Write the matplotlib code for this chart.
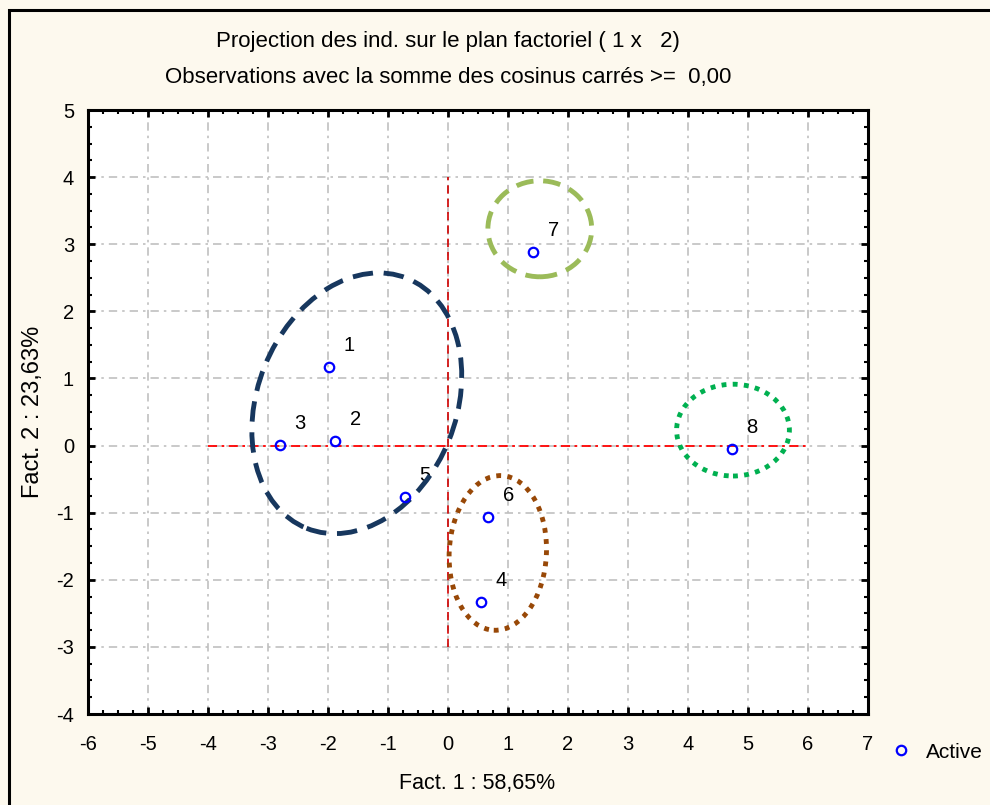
import matplotlib
matplotlib.use("Agg")
import matplotlib.pyplot as plt
from matplotlib.patches import Ellipse, Rectangle
from matplotlib.lines import Line2D
from matplotlib.ticker import MultipleLocator
from matplotlib.transforms import Affine2D

# ---- data ----
labels = ["1", "2", "3", "4", "5", "6", "7", "8"]
fact1 = [-1.98, -1.88, -2.80, 0.55, -0.72, 0.67, 1.42, 4.73]
fact2 = [1.17, 0.07, 0.01, -2.33, -0.77, -1.07, 2.88, -0.05]

title1 = "Projection des ind. sur le plan factoriel ( 1 x   2)"
title2 = "Observations avec la somme des cosinus carrés >=  0,00"
xlabel = "Fact. 1 : 58,65%"
ylabel = "Fact. 2 : 23,63%"
legend_label = "Active"

# group ellipses: centre (data), width/height in Fact.1 units (equal-pixel space), tilt
groups_cx = [-1.52, 1.53, 4.75, 0.83]
groups_cy = [0.63, 3.23, 0.23, -1.60]
groups_w = [3.31, 1.73, 1.88, 1.62]
groups_h = [4.49, 1.60, 1.53, 2.58]
groups_ang = [-21.9, 0, 0, -3]
groups_col = ["#17375E", "#9BBB59", "#00B050", "#984807"]
groups_ls = ["dashed", "dashed", "dotted", "dotted"]

bg = "#FDF9EE"
plt.rcParams["font.family"] = ["Liberation Sans", "DejaVu Sans"]
plt.rcParams["axes.unicode_minus"] = False

fig = plt.figure(figsize=(9.9, 8.05), dpi=100, facecolor=bg)
ax = fig.add_axes([88/990, 1-714/805, (868-88)/990, (714-110)/805])
ax.set_facecolor("white")

ax.set_xlim(-6, 7)
ax.set_ylim(-4, 5)
ax.xaxis.set_major_locator(MultipleLocator(1))
ax.yaxis.set_major_locator(MultipleLocator(1))
ax.xaxis.set_minor_locator(MultipleLocator(0.25))
ax.yaxis.set_minor_locator(MultipleLocator(0.25))
ax.tick_params(which="both", direction="in", top=True, right=True, color="black")
ax.tick_params(which="major", length=5, width=2, labelsize=14.5, pad=10)
ax.tick_params(which="minor", length=3, width=1.5)
ax.tick_params(axis="x", which="major", pad=15)
for s in ax.spines.values():
    s.set_linewidth(2.2)
ax.grid(True, which="major", color="#C0C0C0", linestyle=(0, (5, 3, 1.5, 3)), linewidth=1.2)

# reference lines
ax.plot([-4, 6], [0, 0], color="#FF0000", linestyle=(0, (5, 2.5, 1.5, 2.5)), linewidth=1.3, zorder=2)
ax.plot([0, 0], [-3, 4], color="#D00000", linestyle=(0, (5, 3)), linewidth=1.2, zorder=2)

# points
ax.plot(fact1, fact2, linestyle="none", marker="o", markersize=6.8,
        markerfacecolor="none", markeredgecolor="#0000FF", markeredgewidth=1.6, zorder=5)
for lab, x, y in zip(labels, fact1, fact2):
    ax.annotate(lab, (x, y), xytext=(14.5, 15.5), textcoords="offset points",
                ha="center", va="center", fontsize=14.5, color="black")

# ellipses (drawn in equal-pixel space, then mapped to data)
fig.canvas.draw()
k = (ax.transData.transform((0, 1))[1] - ax.transData.transform((0, 0))[1]) / \
    (ax.transData.transform((1, 0))[0] - ax.transData.transform((0, 0))[0])
for cx, cy, w, h, a, c, ls in zip(groups_cx, groups_cy, groups_w, groups_h, groups_ang, groups_col, groups_ls):
    if ls == "dashed":
        style = (0, (4.2, 2.2)) if w > 3 else (0, (3.6, 2.0))
    else:
        style = (0, (1, 1.3))
    tr = Affine2D().rotate_deg(a).scale(1, 1 / k).translate(cx, cy) + ax.transData
    e = Ellipse((0, 0), w, h, fill=False, edgecolor=c, linewidth=3.5,
                linestyle=style, zorder=4, transform=tr)
    ax.add_patch(e)

# titles and labels
fig.text(448/990, 1-42/805, title1, ha="center", va="center", fontsize=16)
fig.text(448/990, 1-78/805, title2, ha="center", va="center", fontsize=16)
fig.text(477/990, 1-783/805, xlabel, ha="center", va="center", fontsize=15.5)
fig.text(33/990, 1-412/805, ylabel, ha="center", va="center", fontsize=17, rotation=90)

# legend
h = Line2D([], [], linestyle="none", marker="o", markersize=6.8,
           markerfacecolor="none", markeredgecolor="#0000FF", markeredgewidth=1.6)
fig.legend([h], [legend_label], loc="center left", bbox_to_anchor=(888/990, 1-752/805),
           frameon=False, fontsize=15, handletextpad=0.6, handlelength=1.2,
           borderpad=0, borderaxespad=0)

# frame border
fig.patches.append(Rectangle((8.5/990, -0.1), 1.2, 1-10/805+0.1, transform=fig.transFigure,
                             fill=False, edgecolor="black", linewidth=2.2, figure=fig))

fig.savefig("out.png", dpi=100, facecolor=bg)
